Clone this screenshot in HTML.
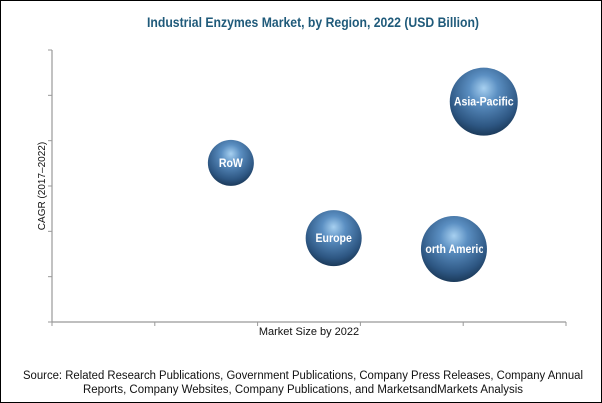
<!DOCTYPE html>
<html><head><meta charset="utf-8"><style>
html,body{margin:0;padding:0;background:#fff}
#wrap{position:relative;width:600px;height:401px;border:1px solid #000;overflow:hidden;font-family:"Liberation Sans",sans-serif}
</style></head><body>
<div id="wrap">
<svg id="chart" width="600" height="401" viewBox="1 1 600 401">
<defs>
<radialGradient id="bg" cx="0.5" cy="0.35" r="0.7" fx="0.5" fy="0.3">
<stop offset="0" stop-color="#a7d0f0"/>
<stop offset="0.3" stop-color="#5b8fc2"/>
<stop offset="0.75" stop-color="#2d5682"/>
<stop offset="1" stop-color="#15304c"/>
</radialGradient>
</defs>
<text x="313" y="27" text-anchor="middle" font-size="14" font-weight="bold" fill="#1f5a7a" textLength="332" lengthAdjust="spacingAndGlyphs">Industrial Enzymes Market, by Region, 2022 (USD Billion)</text>
<g id="axes"></g>
<g id="bubbles"></g>
<text x="309" y="335" text-anchor="middle" font-size="11" fill="#111">Market Size by 2022</text>
<text transform="translate(45,186) rotate(-90)" text-anchor="middle" font-size="10" fill="#111">CAGR (2017–2022)</text>
<text x="303" y="379" text-anchor="middle" font-size="11.5" fill="#111" textLength="560" lengthAdjust="spacingAndGlyphs">Source: Related Research Publications, Government Publications, Company Press Releases, Company Annual</text>
<text x="303" y="393" text-anchor="middle" font-size="11.5" fill="#111" textLength="440" lengthAdjust="spacingAndGlyphs">Reports, Company Websites, Company Publications, and MarketsandMarkets Analysis</text>
</svg>
</div>
<script>
const regions = ["RoW", "Europe", "North America", "Asia-Pacific"];
const marketSize = [1.74, 2.74, 3.91, 4.2];
const cagr = [3.51, 1.85, 1.61, 4.86];
const bubbleSize = [23, 28, 33, 34];
const xTicks = [0, 1, 2, 3, 4, 5];
const yTicks = [0, 1, 2, 3, 4, 5, 6];

const X0 = 52, X1 = 566, Y0 = 322, Y1 = 50;
const xMax = 5, yMax = 6;
function xs(v){ return X0 + (X1 - X0) * v / xMax; }
function ys(v){ return Y0 - (Y0 - Y1) * v / yMax; }
const NS = "http://www.w3.org/2000/svg";
const axes = document.getElementById('axes');
const defs = document.querySelector('defs');
function mk(tag, attrs, parent){ const e = document.createElementNS(NS, tag); for (const k in attrs) e.setAttribute(k, attrs[k]); parent.appendChild(e); return e; }

let l = mk('line', {x1:X0, y1:Y0, x2:X1, y2:Y0, stroke:'#999', 'stroke-width':1.2}, axes);


l = mk('line', {x1:X0, y1:Y0, x2:X0, y2:Y1, stroke:'#999', 'stroke-width':1.2}, axes);


xTicks.forEach(t => {
  const e = mk('line', {x1:xs(t), y1:Y0, x2:xs(t), y2:Y0+4, stroke:'#999'}, axes);
  
  
});
yTicks.forEach(t => {
  const e = mk('line', {x1:X0-4, y1:ys(t), x2:X0, y2:ys(t), stroke:'#999'}, axes);
  
  
});
const bub = document.getElementById('bubbles');
regions.forEach((r, i) => {
  const g = mk('g', {}, bub);
  
  
  const cx = xs(marketSize[i]), cy = ys(cagr[i]), rr = bubbleSize[i];
  const cp = mk('clipPath', {id:'clip' + i}, defs);
  mk('circle', {cx:cx, cy:cy, r:rr}, cp);
  mk('circle', {cx:cx, cy:cy, r:rr, fill:'url(#bg)'}, g);
  const t = mk('text', {x:cx, y:cy+4, 'text-anchor':'middle', 'font-size':12, 'font-weight':'bold', fill:'#fff', 'clip-path':'url(#clip' + i + ')', transform:'translate(' + cx + ',0) scale(0.88,1) translate(' + (-cx) + ',0)'}, g);
  t.textContent = r;
  
  
});
</script>
</body></html>
